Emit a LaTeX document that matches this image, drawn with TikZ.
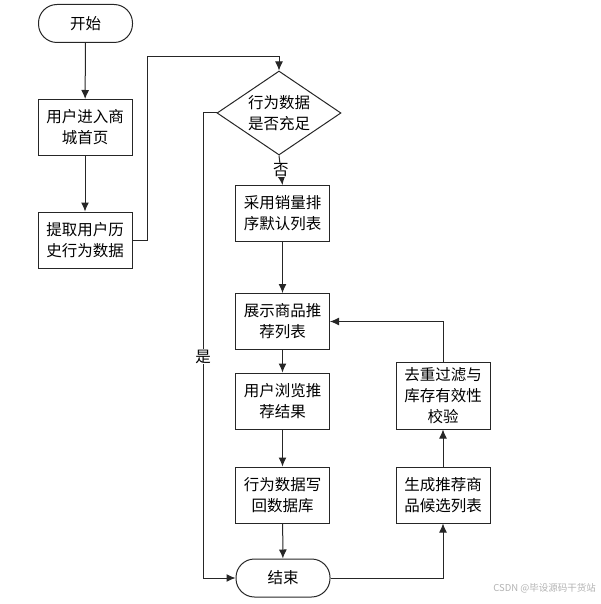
\documentclass[tikz,border=0pt]{standalone}
\usepackage{fontspec}
\setmainfont{Noto Sans CJK SC}
\usetikzlibrary{shapes.geometric,positioning,arrows.meta}

% looks of the flow chart
\tikzset{
  procbox/.style={draw=black!85,line width=1pt,minimum width=94pt,minimum height=56pt,
    inner sep=0pt,align=center,font=\fontsize{15.5pt}{21pt}\selectfont},
  termbox/.style={procbox,rounded corners=18.5pt,minimum height=38pt},
  decbox/.style={procbox,diamond,aspect=1.5,minimum width=124pt,minimum height=84pt},
  flow/.style={-{Latex[length=9pt,width=8pt]},draw=black!85,line width=1pt},
  lbl/.style={fill=white,inner sep=0.5pt,font=\fontsize{15.5pt}{18pt}\selectfont},
}

\begin{document}
\begin{tikzpicture}[x=1pt,y=-1pt]
  \useasboundingbox (0,0) rectangle (601,604);
  % left column
  \node (start)   [termbox] at (85.5,23.5) {开始};
  \node (enter)   [procbox] at (85,127.5)  {用户进入商\\城首页};
  \node (extract) [procbox] at (85,240)    {提取用户历\\史行为数据};
  % middle column
  \node (check)   [decbox]  at (279,113)   {行为数据\\是否充足};
  \node (sales)   [procbox] at (282.5,213.5) {采用销量排\\序默认列表};
  \node (show)    [procbox] at (282.5,321.5) {展示商品推\\荐列表};
  \node (browse)  [procbox] at (282.5,401) {用户浏览推\\荐结果};
  \node (write)   [procbox] at (282.5,495) {行为数据写\\回数据库};
  \node (finish)  [termbox] at (283,578)   {结束};
  % right column
  \node (gen)     [procbox] at (443,495)   {生成推荐商\\品候选列表};
  \node (filter)  [procbox,minimum height=67pt] at (443,395.5) {去重过滤与\\库存有效性\\校验};

  \coordinate (bendA) at (147,57);
  \coordinate (bendB) at (203,113);

  \draw[flow] (start) -- (enter);
  \draw[flow] (enter) -- (extract);
  \draw[flow] (extract.east) -| (bendA) -| (check.north);
  \draw[flow] (check.south) -- (sales.north)
      node (noLbl) [lbl,pos=0.5] {否};
  \draw[flow] (check.west) -- (bendB) |- (finish.west)
      node (yesLbl) [lbl,pos=0.262] {是};
  \draw[flow] (sales) -- (show);
  \draw[flow] (show) -- (browse);
  \draw[flow] (browse) -- (write);
  \draw[flow] (write) -- (finish);
  \draw[flow] (finish.east) -| (gen.south);
  \draw[flow] (gen) -- (filter);
  \draw[flow] (filter.north) |- (show.east);

  \node (mark) [text=black!30,anchor=east,inner sep=0pt,
      font=\fontsize{9.5pt}{11pt}\selectfont] at (596,588)
      {CSDN @毕设源码干货站};
\end{tikzpicture}
\end{document}
